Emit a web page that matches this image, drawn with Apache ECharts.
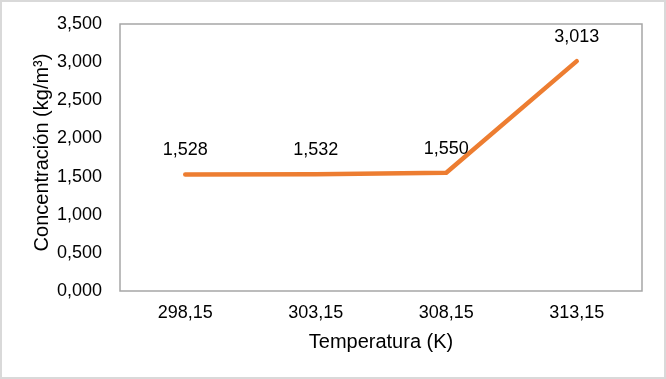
<!DOCTYPE html>
<html><head><meta charset="utf-8">
<script src="https://cdn.jsdelivr.net/npm/echarts@6/dist/echarts.min.js"></script>
<style>html,body{margin:0;padding:0;background:#fff}#c{width:666px;height:379px}</style>
</head><body><div id="c"></div>
<script>
const categories = ['298,15', '303,15', '308,15', '313,15'];
const values = [1.528, 1.532, 1.550, 3.013];
const yTicks = { min: 0, max: 3.5, interval: 0.5 };
const fmt = v => v.toFixed(3).replace('.', ',');
const chart = echarts.init(document.getElementById('c'));
const font = 'Liberation Sans, Arial, sans-serif';
chart.setOption({
  animation: false,
  graphic: [{ type: 'rect', shape: { x: 1, y: 1, width: 664, height: 377 }, style: { fill: 'none', stroke: '#d9d9d9', lineWidth: 2 } }],
  grid: { left: 120, top: 24, right: 24, bottom: 88, show: true, borderColor: '#a6a6a6', borderWidth: 1.5 },
  xAxis: {
    type: 'category', data: categories, boundaryGap: true,
    axisLine: { show: false }, axisTick: { show: false },
    axisLabel: { color: '#000', fontSize: 18, fontFamily: font, margin: 13 },
    name: 'Temperatura (K)', nameLocation: 'middle', nameGap: 41, nameMoveOverlap: false,
    nameTextStyle: { color: '#000', fontSize: 20, fontFamily: font }
  },
  yAxis: {
    type: 'value', min: yTicks.min, max: yTicks.max, interval: yTicks.interval,
    axisLine: { show: false }, axisTick: { show: false }, splitLine: { show: false },
    axisLabel: { color: '#000', fontSize: 18, fontFamily: font, margin: 18, formatter: v => fmt(v) },
    name: 'Concentración (kg/m³)', nameLocation: 'middle', nameGap: 68, nameMoveOverlap: false,
    nameTextStyle: { color: '#000', fontSize: 20, fontFamily: font, padding: [0, 0, 0, 10] }
  },
  series: [{
    type: 'line', data: values, symbol: 'circle', symbolSize: 2, showSymbol: true,
    itemStyle: { color: 'rgba(0,0,0,0)' },
    lineStyle: { color: '#ED7D31', width: 4.5, cap: 'round', join: 'round' },
    label: { show: true, position: 'top', distance: 14, color: '#000', fontSize: 18, fontFamily: font, formatter: p => fmt(p.value) }
  }]
});
</script></body></html>
